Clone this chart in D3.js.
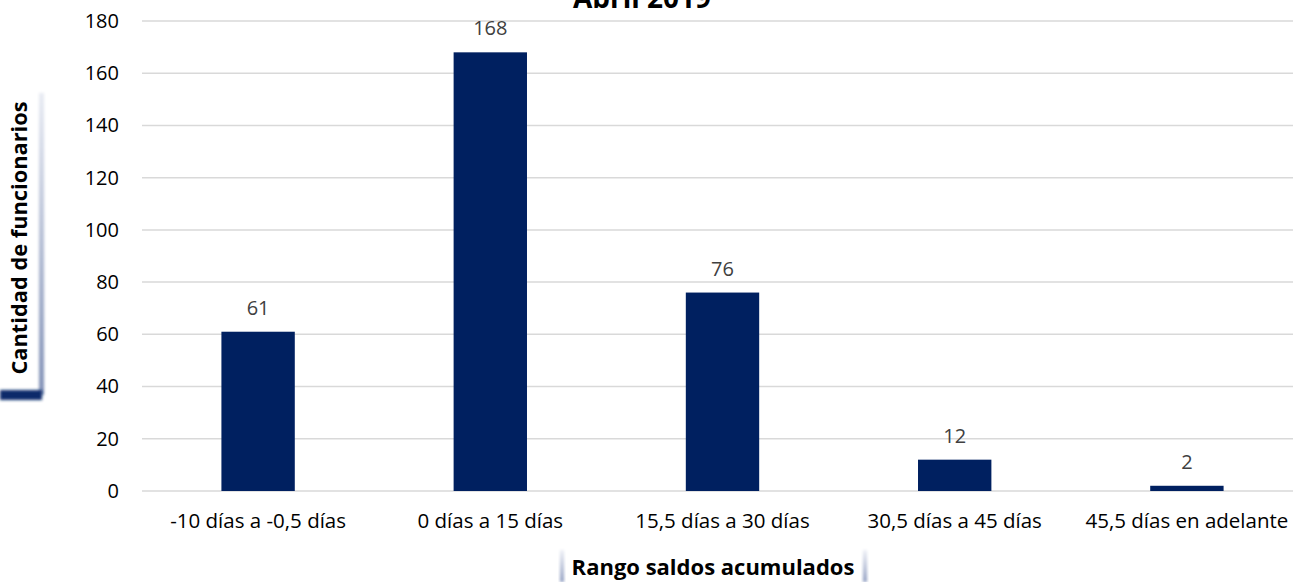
<!DOCTYPE html>
<html><head><meta charset="utf-8">
<script src="https://cdn.jsdelivr.net/npm/d3@7"></script>
<style>
body{margin:0;background:#fff;}
svg{display:block;font-family:"Open Sans",Lato,sans-serif;}
</style></head>
<body>
<svg id="c" width="1293" height="582"></svg>
<script>
const categories = ["-10 días a -0,5 días","0 días a 15 días","15,5 días a 30 días","30,5 días a 45 días","45,5 días en adelante"];
const values = [61,168,76,12,2];
const yTicks = [0,20,40,60,80,100,120,140,160,180];
const title = "Abril 2019";
const yTitle = "Cantidad de funcionarios";
const xTitle = "Rango saldos acumulados";

const FONT = "'Open Sans',Lato,sans-serif";
const svg = d3.select("#c");
const x = d3.scaleBand().domain(categories).range([142,1303]).paddingInner(0.684).paddingOuter(0.342);
const y = d3.scaleLinear().domain([0,180]).range([491,21]);

const defs = svg.append("defs");
const blur = defs.append("filter").attr("id","blur").attr("x","-50%").attr("y","-50%").attr("width","200%").attr("height","200%");
blur.append("feGaussianBlur").attr("stdDeviation",1.5);
const gv = defs.append("linearGradient").attr("id","gv").attr("x1",0).attr("y1",0).attr("x2",0).attr("y2",1);
gv.append("stop").attr("offset",0).attr("stop-color","#e8ebf3");
gv.append("stop").attr("offset",1).attr("stop-color","#7f8fb5");
const gx = defs.append("linearGradient").attr("id","gx").attr("x1",0).attr("y1",0).attr("x2",0).attr("y2",1);
gx.append("stop").attr("offset",0).attr("stop-color","#eef0f6");
gx.append("stop").attr("offset",1).attr("stop-color","#8e9cc0");

// gridlines
svg.append("g").selectAll("line").data(yTicks).join("line")
  .attr("x1",142).attr("x2",1303).attr("y1",d=>y(d)).attr("y2",d=>y(d))
  .attr("stroke","#d9d9d9").attr("stroke-width",1.5);

// y axis labels
const ya = svg.append("g").attr("transform","translate(119,0)")
  .call(d3.axisLeft(y).tickValues(yTicks).tickSize(0).tickPadding(0));
ya.select(".domain").remove();
ya.selectAll("text").attr("font-family",FONT).attr("font-size",20).attr("fill","#000");

// bars
svg.append("g").selectAll("rect").data(values).join("rect")
  .attr("x",(d,i)=>x(categories[i])).attr("width",x.bandwidth())
  .attr("y",d=>y(d)).attr("height",d=>y(0)-y(d))
  .attr("fill","#002060");

// data labels
svg.append("g").selectAll("text").data(values).join("text")
  .attr("x",(d,i)=>x(categories[i])+x.bandwidth()/2).attr("y",d=>y(d)-17)
  .attr("text-anchor","middle").attr("font-family",FONT).attr("font-size",20).attr("fill","#404040").text(d=>d);

// x axis labels
const xa = svg.append("g").attr("transform","translate(0,491)")
  .call(d3.axisBottom(x).tickSize(0).tickPadding(0));
xa.select(".domain").remove();
xa.selectAll("text").attr("font-family",FONT).attr("font-size",20.5).attr("fill","#000").attr("dy",0).attr("y",37);

// title
svg.append("text").attr("x",642).attr("y",8).attr("text-anchor","middle")
  .attr("font-size",28).attr("font-weight","bold").attr("fill","#000").text(title);

// y title shadow
svg.append("rect").attr("x",39).attr("y",93).attr("width",5).attr("height",302).attr("fill","url(#gv)").attr("filter","url(#blur)");
svg.append("rect").attr("x",0).attr("y",390).attr("width",42).attr("height",10).attr("fill","#0d2a6b").attr("filter","url(#blur)");
svg.append("text").attr("transform","translate(27,238) rotate(-90)").attr("text-anchor","middle")
  .attr("font-size",21.8).attr("font-weight","bold").attr("fill","#000").text(yTitle);

// x title shadow
svg.append("rect").attr("x",560).attr("y",550).attr("width",4).attr("height",32).attr("fill","url(#gx)").attr("filter","url(#blur)");
svg.append("rect").attr("x",863).attr("y",550).attr("width",4).attr("height",32).attr("fill","url(#gx)").attr("filter","url(#blur)");
svg.append("text").attr("x",713).attr("y",575).attr("text-anchor","middle")
  .attr("font-size",22).attr("font-weight","bold").attr("fill","#000").text(xTitle);
</script>
</body></html>
